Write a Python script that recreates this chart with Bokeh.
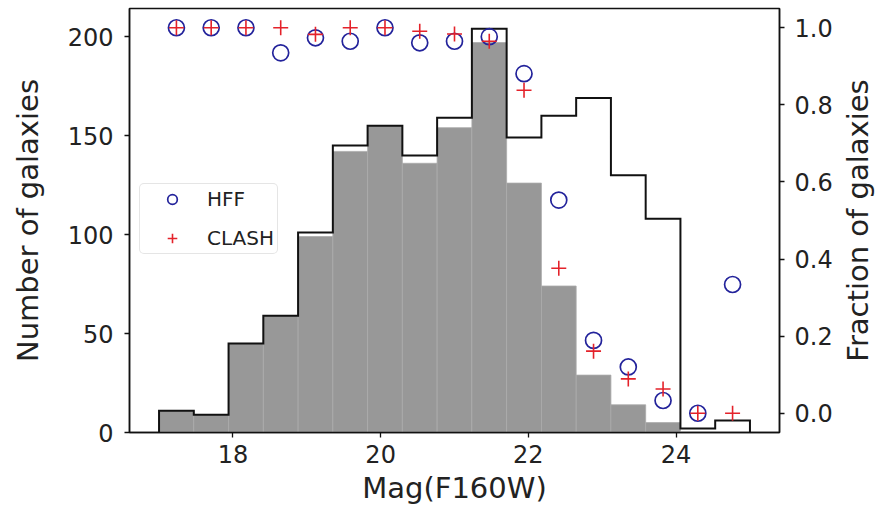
import numpy as np
from bokeh.plotting import figure
from bokeh.layouts import row
from bokeh.models import (Range1d, LinearAxis, FixedTicker, Legend, LegendItem,
                          PrintfTickFormatter, Title)
from bokeh.embed import file_html
from bokeh.resources import INLINE

# ---------------- data ----------------
mag_min = 17.0
mag_max = 25.0
n_bins = 17
total_counts = [11, 9, 45, 59, 101, 145, 155, 140, 159, 204, 149, 160, 169, 130, 108, 2, 6]
detected_counts = [11, 9, 45, 59, 99, 142, 155, 136, 154, 197, 126, 74, 29, 14, 5, 0, 0]
hff_fraction = [1.0, 1.0, 1.0, 0.935, 0.974, 0.965, 1.0, 0.961, 0.965, 0.977,
                0.881, 0.553, 0.189, 0.12, 0.033, 0.0, 0.334]
clash_fraction = [1.0, 1.0, 1.0, 1.0, 0.983, 1.0, 1.0, 0.991, 0.984, 0.965,
                  0.838, 0.376, 0.161, 0.089, 0.063, 0.0, 0.0]
x_ticks = [18, 20, 22, 24]
count_ticks = [0, 50, 100, 150, 200]
frac_ticks = [0.0, 0.2, 0.4, 0.6, 0.8, 1.0]

edges = np.linspace(mag_min, mag_max, n_bins + 1)
centers = 0.5 * (edges[:-1] + edges[1:])

FONT = "DejaVu Sans"
TXT = "#222222"

p = figure(width=838, height=510, output_backend="svg", toolbar_location=None,
           x_range=Range1d(16.6, 25.4), y_range=Range1d(0, 214.2),
           min_border_left=129, min_border_right=59, min_border_top=8,
           min_border_bottom=78)
p.extra_y_ranges = {"frac": Range1d(-0.05, 1.05)}
p.xgrid.visible = False
p.ygrid.visible = False
p.outline_line_color = "#111111"
p.outline_line_width = 1.5
p.background_fill_color = "white"
p.border_fill_color = "white"

# histograms
p.quad(left=edges[:-1], right=edges[1:], bottom=0, top=detected_counts,
       fill_color="#989898", line_color="#ababab", line_width=0.8)

step_x = [edges[0]]
step_y = [0]
for i, c in enumerate(total_counts):
    step_x += [edges[i], edges[i + 1]]
    step_y += [c, c]
step_x.append(edges[-1])
step_y.append(0)
p.line(step_x, step_y, line_color="#111111", line_width=2, line_join="miter")

# fractions
r_hff = p.scatter(centers, hff_fraction, y_range_name="frac", marker="circle",
                  size=16, fill_color=None, line_color="#23239b", line_width=1.7)
r_clash = p.scatter(centers, clash_fraction, y_range_name="frac", marker="cross",
                    size=15, line_color="#e4222a", line_width=1.6)

# right axis
raxis = LinearAxis(y_range_name="frac",
                   ticker=FixedTicker(ticks=frac_ticks),
                   formatter=PrintfTickFormatter(format="%.1f"))
p.add_layout(raxis, "right")

p.xaxis.ticker = FixedTicker(ticks=x_ticks)
p.yaxis[0].ticker = FixedTicker(ticks=count_ticks)
p.xaxis.axis_label = "Mag(F160W)"
p.yaxis[0].axis_label = "Number of galaxies"

for ax in [p.xaxis[0], p.yaxis[0], raxis]:
    ax.axis_line_color = "#111111"
    ax.axis_line_width = 1.5
    ax.major_tick_in = 0
    ax.major_tick_out = 5
    ax.major_tick_line_width = 1.3
    ax.major_tick_line_color = "#111111"
    ax.minor_tick_line_color = None
    ax.major_label_text_font = FONT
    ax.major_label_text_font_size = "24px"
    ax.major_label_text_color = TXT
    ax.axis_label_text_font = FONT
    ax.axis_label_text_font_size = "29px"
    ax.axis_label_text_font_style = "normal"
    ax.axis_label_text_color = TXT

p.xaxis[0].major_label_standoff = 7
p.xaxis[0].axis_label_standoff = 5
p.yaxis[0].major_label_standoff = 11
p.yaxis[0].axis_label_standoff = 20
raxis.major_label_standoff = 10

legend = Legend(items=[LegendItem(label="HFF", renderers=[r_hff]),
                       LegendItem(label="CLASH", renderers=[r_clash])],
                location=(10, 178))
legend.label_text_font = FONT
legend.label_text_font_size = "20px"
legend.label_text_color = TXT
legend.padding = 3
legend.spacing = 15
legend.glyph_height = 24
legend.glyph_width = 58
legend.label_standoff = 6
legend.border_line_color = "#cccccc"
legend.border_line_width = 1
legend.background_fill_alpha = 0.85
legend.margin = 0
try:
    legend.border_radius = 5
except Exception:
    pass
p.add_layout(legend)

# narrow companion panel that carries the right-hand axis title (reads bottom-to-top)
p2 = figure(width=38, height=510, output_backend="svg", toolbar_location=None,
            x_range=Range1d(0, 1), y_range=Range1d(0, 1),
            min_border_left=0, min_border_right=0, min_border_top=8,
            min_border_bottom=78)
p2.xaxis.visible = False
p2.yaxis.visible = False
p2.xgrid.visible = False
p2.ygrid.visible = False
p2.outline_line_color = None
p2.border_fill_color = "white"
p2.add_layout(Title(text="Fraction of galaxies", align="center",
                    text_font=FONT, text_font_size="29px",
                    text_font_style="normal", text_color=TXT,
                    offset=0, standoff=0), "left")

layout = row(p, p2, spacing=0)
open("out.html", "w").write(file_html(layout, INLINE))
